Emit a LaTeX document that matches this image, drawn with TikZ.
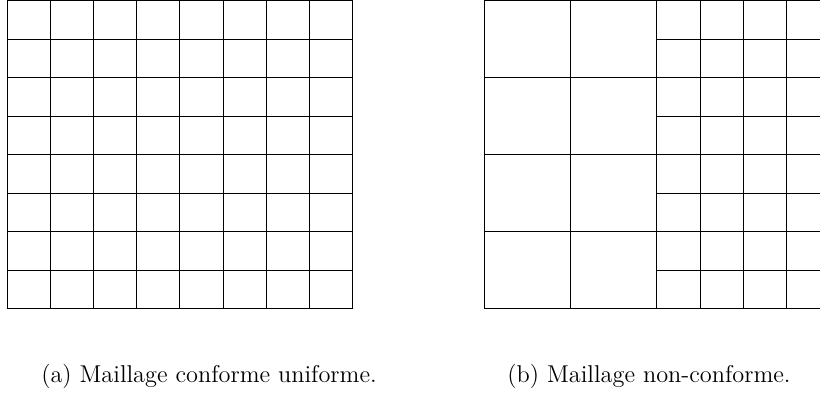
\documentclass[tikz,border=0pt]{standalone}
\usepackage{tikz}

\begin{document}
\begin{tikzpicture}[x=0.0185cm, y=-0.0185cm]
        \clip (0,0) rectangle (820,394);

        % Uniform conforming mesh
        \foreach \i in {0,...,8} {
            \draw (7+43.2*\i,0.5) -- (7+43.2*\i,308.5);
            \draw (7,0.5+38.5*\i) -- (352.6,0.5+38.5*\i);
        }

        % Non-conforming mesh: coarse left half
        \foreach \i in {0,1,2} {
            \draw (484+86.4*\i,0.5) -- (484+86.4*\i,308.5);
        }
        \foreach \i in {0,...,4} {
            \draw (484,0.5+77*\i) -- (656.8,0.5+77*\i);
        }

        % Non-conforming mesh: fine right half
        \foreach \i in {1,...,4} {
            \draw (656.8+43.2*\i,0.5) -- (656.8+43.2*\i,308.5);
        }
        \foreach \i in {0,...,8} {
            \draw (656.8,0.5+38.5*\i) -- (829.6,0.5+38.5*\i);
        }

        % Captions
        \node[anchor=base, font=\fontsize{12.8}{15}\selectfont] (capA) at (209,382) {(a) Maillage conforme uniforme.};
        \node[anchor=base, font=\fontsize{12.8}{15}\selectfont] (capB) at (649,382) {(b) Maillage non-conforme.};

    \end{tikzpicture}
\end{document}
